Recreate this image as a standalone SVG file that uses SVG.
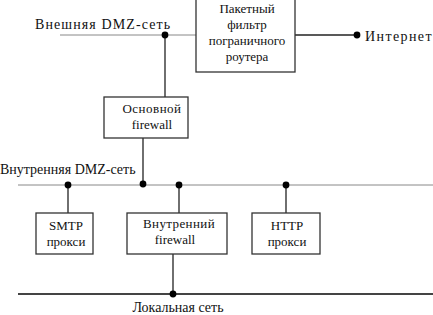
<svg xmlns="http://www.w3.org/2000/svg" width="433" height="315" viewBox="0 0 433 315">
<style>
text{font-family:"Liberation Serif","Times New Roman",serif;font-size:13px;fill:#111}
.lbl{font-size:14px}
.box{fill:#fff;stroke:#333;stroke-width:1.3}
.ln{stroke:#222;stroke-width:1.3;fill:none}
.gr{stroke:#888;stroke-width:1;fill:none}
.dot{fill:#000}
.c{text-anchor:middle}
</style>
<rect width="433" height="315" fill="#fff"/>
<g id="connectors">
<line class="gr" x1="60" y1="35" x2="196" y2="35"/>
<line class="ln" x1="295" y1="35" x2="357" y2="35"/>
<line class="ln" x1="165" y1="35" x2="165" y2="97"/>
<line class="ln" x1="143" y1="138" x2="143" y2="185"/>
<line class="gr" x1="18" y1="185" x2="433" y2="185"/>
<line class="ln" x1="68" y1="185" x2="68" y2="213"/>
<line class="ln" x1="179" y1="185" x2="179" y2="213"/>
<line class="ln" x1="286" y1="185" x2="286" y2="213"/>
<line class="ln" x1="173" y1="254" x2="173" y2="294"/>
<line x1="18" y1="294" x2="433" y2="294" stroke="#444" stroke-width="2"/>
<circle class="dot" cx="165" cy="35" r="3.4"/>
<circle class="dot" cx="357" cy="35" r="3.4"/>
<circle class="dot" cx="68" cy="185" r="3.4"/>
<circle class="dot" cx="143" cy="184" r="3.4"/>
<circle class="dot" cx="179" cy="185" r="3.4"/>
<circle class="dot" cx="286" cy="185" r="3.4"/>
<circle class="dot" cx="173" cy="294" r="3.4"/>
</g>
<g id="label-ext"><text class="lbl" x="35" y="29" letter-spacing="1.1">Внешняя DMZ-сеть</text></g>
<g id="label-int"><text class="lbl" x="0" y="174">Внутренняя DMZ-сеть</text></g>
<g id="label-inet"><text class="lbl" x="365" y="41" letter-spacing="1.4">Интернет</text></g>
<g id="label-lan"><text class="lbl c" x="178" y="312">Локальная сеть</text></g>
<g id="router">
<rect class="box" x="196" y="-5" width="99" height="77"/>
<text class="c" x="247" y="13">Пакетный</text>
<text class="c" x="247" y="29">фильтр</text>
<text class="c" x="247" y="45">пограничного</text>
<text class="c" x="247" y="61">роутера</text>
</g>
<g id="main-fw">
<rect class="box" x="104" y="97" width="84" height="41"/>
<text class="c" x="152" y="113" letter-spacing="0.5">Основной</text>
<text class="c" x="152" y="129">firewall</text>
</g>
<g id="smtp">
<rect class="box" x="36" y="213" width="57" height="41"/>
<text class="c" x="66" y="230">SMTP</text>
<text class="c" x="66" y="246">прокси</text>
</g>
<g id="inner-fw">
<rect class="box" x="127" y="213" width="100" height="41"/>
<text class="c" x="179" y="228" letter-spacing="0.4">Внутренний</text>
<text class="c" x="175" y="244">firewall</text>
</g>
<g id="http">
<rect class="box" x="252" y="213" width="68" height="41"/>
<text class="c" x="287" y="230">HTTP</text>
<text class="c" x="287" y="246">прокси</text>
</g>
</svg>
